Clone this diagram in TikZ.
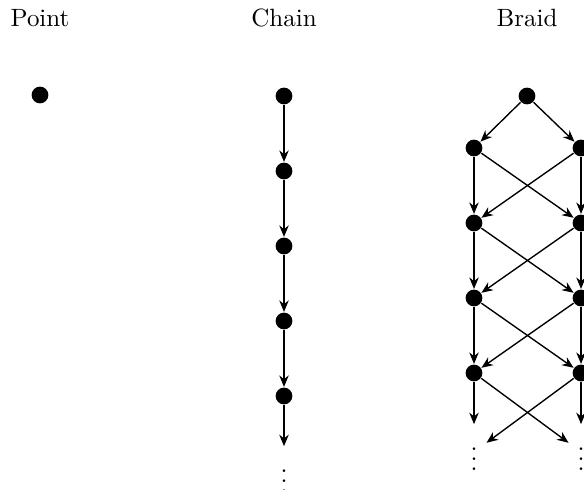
\documentclass[tikz,border=0pt]{standalone}
\usepackage{amsmath}
\usepackage{tikz}
\usetikzlibrary{positioning,arrows.meta}

\begin{document}
\begin{tikzpicture}[x=0.4pt,y=-0.4pt,line width=0.55pt]
\tikzstyle{dot}=[circle,fill=black,inner sep=0pt,minimum size=6.7pt]
\tikzstyle{more}=[inner sep=0.3333em]
\tikzstyle{arr}=[-{Stealth[length=4.6pt,width=3.8pt]}]
\useasboundingbox (0,0) rectangle (584,490);
% titles
\node [anchor=base] (tpoint) at (40,27) {Point};
\node [anchor=base] (tchain) at (284,27) {Chain};
\node [anchor=base] (tbraid) at (527,27) {Braid};
% point
\node [dot] (p) at (40,95) {};
% chain
\node [dot] (c1) at (284,96) {};
\node [dot] (c2) at (284,171) {};
\node [dot] (c3) at (284,246) {};
\node [dot] (c4) at (284,321) {};
\node [dot] (c5) at (284,396) {};
\node [more] (c6) at (284,474) {$\vdots$};
\draw [arr] (c1) -- (c2);
\draw [arr] (c2) -- (c3);
\draw [arr] (c3) -- (c4);
\draw [arr] (c4) -- (c5);
\draw [arr] (c5) -- (c6);
% braid
\node [dot] (b0) at (527,96) {};
\node [dot] (l1) at (474,148) {};
\node [dot] (r1) at (581,148) {};
\node [dot] (l2) at (474,223) {};
\node [dot] (r2) at (581,223) {};
\node [dot] (l3) at (474,298) {};
\node [dot] (r3) at (581,298) {};
\node [dot] (l4) at (474,373) {};
\node [dot] (r4) at (581,373) {};
\node [more] (l5) at (474,452) {$\vdots$};
\node [more] (r5) at (581,452) {$\vdots$};
\draw [arr] (b0) -- (l1);
\draw [arr] (b0) -- (r1);
\draw [arr] (l1) -- (l2);
\draw [arr] (r1) -- (r2);
\draw [arr] (l1) -- (r2);
\draw [arr] (r1) -- (l2);
\draw [arr] (l2) -- (l3);
\draw [arr] (r2) -- (r3);
\draw [arr] (l2) -- (r3);
\draw [arr] (r2) -- (l3);
\draw [arr] (l3) -- (l4);
\draw [arr] (r3) -- (r4);
\draw [arr] (l3) -- (r4);
\draw [arr] (r3) -- (l4);
\draw [arr] (l4) -- (l5);
\draw [arr] (r4) -- (r5);
\draw [arr] (l4) -- (r5);
\draw [arr] (r4) -- (l5);
\end{tikzpicture}
\end{document}
